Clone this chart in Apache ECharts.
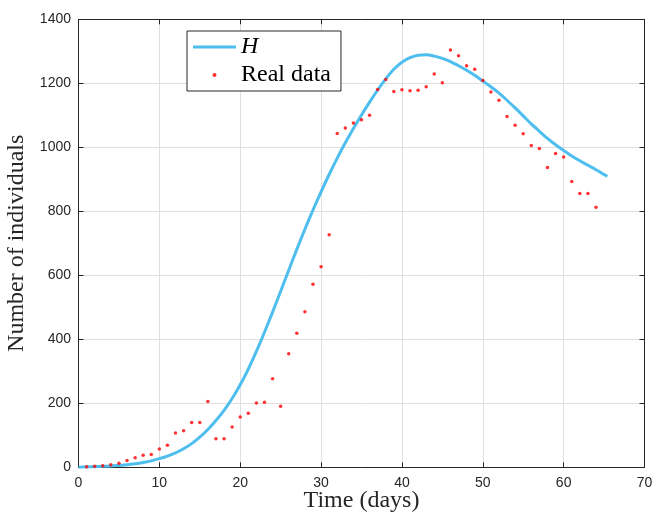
<!DOCTYPE html>
<html>
<head>
<meta charset="utf-8">
<script src="https://cdn.jsdelivr.net/npm/echarts@6/dist/echarts.min.js"></script>
<style>
html,body{margin:0;padding:0;background:#fff;}
#chart{width:652px;height:516px;}
</style>
</head>
<body>
<div id="chart"></div>
<script>
// Real data (days 1..64)
var dataDays = [1,2,3,4,5,6,7,8,9,10,11,12,13,14,15,16,17,18,19,20,21,22,23,24,25,26,27,28,29,30,31,32,33,34,35,36,37,38,39,40,41,42,43,44,45,46,47,48,49,50,51,52,53,54,55,56,57,58,59,60,61,62,63,64];
var dataValues = [2,3,5,8,13,21,30,38,40,57,69,107,114,140,140,206,89,89,126,157,169,201,203,277,191,355,419,486,572,627,727,1043,1060,1076,1086,1100,1181,1212,1174,1180,1177,1178,1189,1229,1202,1304,1286,1255,1244,1209,1173,1147,1096,1069,1042,1006,996,937,981,970,893,856,856,813];

// Model curve H
var hDays = [0,1,2,3,4,5,6,7,8,9,10,11,12,13,14,15,16,17,18,19,20,21,22,23,24,25,26,27,28,29,30,31,32,33,34,35,36,37,38,39,40,41,42,43,44,45,46,47,48,49,50,51,52,53,54,55,56,57,58,59,60,61,62,63,64,65,65.4];
var hValues = [0,1,2,3,4,6,8,11,15,20,27,35,45,58,74,94,118,146,178,215,258,307,362,422,485,550,616,681,744,804,861,915,966,1014,1059,1101,1141,1179,1214,1244,1266,1280,1288,1289,1285,1278,1268,1255,1241,1225,1207,1189,1169,1147,1123,1098,1073,1050,1028,1008,990,973,958,944,930,915,909];

// Axes
var xTicks = {min:0, max:70, interval:10};
var yTicks = {min:0, max:1400, interval:200};
var xName = 'Time (days)';
var yName = 'Number of individuals';
var seriesNames = ['H', 'Real data'];

var hData = hDays.map(function(d,i){return [d, hValues[i]];});
var pts = dataDays.map(function(d,i){return [d, dataValues[i]];});

var axisColor = '#262626';
var gridColor = '#dfdfdf';
var serif = '"Liberation Serif", "Times New Roman", serif';
var sans = '"Liberation Sans", Arial, sans-serif';
var plain = function(v){ return String(v); };

var chart = echarts.init(document.getElementById('chart'), null, {renderer:'canvas'});
chart.setOption({
  animation:false,
  backgroundColor:'#fff',
  grid:{left:78.5, right:7.5, top:19.3, bottom:48.7, containLabel:false, outerBoundsMode:'none'},
  legend:{
    orient:'vertical',
    left:187, top:31,
    padding:[4,10,4,6],
    itemGap:4,
    itemWidth:43, itemHeight:4,
    borderColor:'#262626', borderWidth:1,
    backgroundColor:'#fff',
    data:[
      {name:seriesNames[0], icon:'path://M0,0H43V3H0Z', textStyle:{fontStyle:'italic'}},
      {name:seriesNames[1]}
    ],
    textStyle:{fontFamily:serif, fontSize:24, color:'#000', lineHeight:24}
  },
  xAxis:[{
    type:'value', min:xTicks.min, max:xTicks.max, interval:xTicks.interval,
    name:xName, nameLocation:'middle', nameGap:21, nameMoveOverlap:false,
    nameTextStyle:{fontFamily:serif, fontSize:24, color:axisColor},
    axisLine:{show:true, onZero:false, lineStyle:{color:axisColor, width:1}},
    axisTick:{show:true, inside:true, length:5, lineStyle:{color:axisColor}},
    axisLabel:{margin:9, fontFamily:sans, fontSize:14, color:axisColor, formatter:plain},
    splitLine:{show:true, lineStyle:{color:gridColor, width:1}}
  },{
    type:'value', position:'top', min:xTicks.min, max:xTicks.max, interval:xTicks.interval,
    axisLine:{show:true, onZero:false, lineStyle:{color:axisColor, width:1}},
    axisTick:{show:true, inside:true, length:5, lineStyle:{color:axisColor}},
    axisLabel:{show:false}, splitLine:{show:false}
  }],
  yAxis:[{
    type:'value', min:yTicks.min, max:yTicks.max, interval:yTicks.interval,
    name:yName, nameLocation:'middle', nameGap:50, nameRotate:90, nameMoveOverlap:false,
    nameTextStyle:{fontFamily:serif, fontSize:24, color:axisColor},
    axisLine:{show:true, onZero:false, lineStyle:{color:axisColor, width:1}},
    axisTick:{show:true, inside:true, length:5, lineStyle:{color:axisColor}},
    axisLabel:{margin:7.5, fontFamily:sans, fontSize:14, color:axisColor, formatter:plain},
    splitLine:{show:true, lineStyle:{color:gridColor, width:1}}
  },{
    type:'value', position:'right', min:yTicks.min, max:yTicks.max, interval:yTicks.interval,
    axisLine:{show:true, onZero:false, lineStyle:{color:axisColor, width:1}},
    axisTick:{show:true, inside:true, length:5, lineStyle:{color:axisColor}},
    axisLabel:{show:false}, splitLine:{show:false}
  }],
  series:[{
    name:seriesNames[0], type:'line', data:hData, smooth:0.3,
    showSymbol:false, symbol:'none',
    lineStyle:{color:'#4DBEEE', width:3},
    itemStyle:{color:'#4DBEEE'},
    z:2
  },{
    name:seriesNames[1], type:'scatter', data:pts,
    symbol:'circle', symbolSize:3.5,
    itemStyle:{color:'#ff0000'},
    z:3
  }]
});
</script>
</body>
</html>
